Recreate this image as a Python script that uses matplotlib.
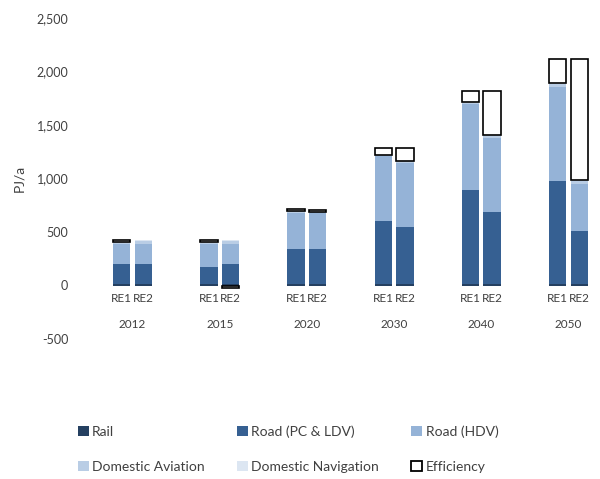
import matplotlib.pyplot as plt
import numpy as np
from matplotlib.patches import Patch
from matplotlib.transforms import blended_transform_factory

plt.rcParams["font.family"] = ["Lato", "DejaVu Sans"]

years = ["2012", "2015", "2020", "2030", "2040", "2050"]
scenarios = ["RE1", "RE2"]

# PJ/a per year, RE1 then RE2
rail = {
    "RE1": [12, 12, 12, 10, 10, 10],
    "RE2": [12, 12, 12, 10, 10, 10],
}
road_pc = {
    "RE1": [190, 165, 330, 589, 884, 970],
    "RE2": [190, 190, 330, 533, 679, 496],
}
road_hdv = {
    "RE1": [186, 211, 340, 611, 800, 876],
    "RE2": [186, 186, 335, 605, 692, 441],
}
aviation = {
    "RE1": [12, 12, 12, 10, 15, 30],
    "RE2": [28, 28, 10, 13, 20, 32],
}
navigation = {
    "RE1": [3, 3, 3, 3, 4, 7],
    "RE2": [10, 10, 3, 3, 5, 8],
}
efficiency = {
    "RE1": [22, 22, 22, 65, 102, 226],
    "RE2": [0, -22, 14, 124, 409, 1132],
}

series = [
    ("Rail", rail, "#254061"),
    ("Road (PC & LDV)", road_pc, "#366092"),
    ("Road (HDV)", road_hdv, "#95B3D7"),
    ("Domestic Aviation", aviation, "#B9CDE5"),
    ("Domestic Navigation", navigation, "#DCE6F2"),
]

text_color = "#404040"
fig = plt.figure(figsize=(6, 4.79), dpi=100)
ax = fig.add_axes([85 / 600, 1 - 339 / 479, 515 / 600, 321 / 479])

x = np.arange(len(years))
offsets = {"RE1": -0.123, "RE2": 0.123}
width = 0.2

for scen in scenarios:
    pos = x + offsets[scen]
    bottom = np.zeros(len(years))
    for name, data, color in series:
        vals = np.array(data[scen], dtype=float)
        ax.bar(pos, vals, width, bottom=bottom, color=color, linewidth=0)
        bottom += vals
    eff = np.array(efficiency[scen], dtype=float)
    # negative efficiency hangs below zero
    eff_bottom = np.where(eff > 0, bottom, 0)
    mask = eff != 0
    ax.bar(pos[mask], eff[mask], width, bottom=eff_bottom[mask],
           facecolor="white", edgecolor="black", linewidth=1.2)

ax.set_ylim(-500, 2500)
ax.set_xlim((85 - 132.5) / 87.2, (600 - 132.5) / 87.2)
ax.set_yticks(range(-500, 2501, 500))
ax.set_yticklabels([f"{v:,}" for v in range(-500, 2501, 500)])
ax.tick_params(axis="y", length=0, pad=12, labelsize=9, labelcolor=text_color)
ax.set_xticks([])
for s in ax.spines.values():
    s.set_visible(False)

ax.set_ylabel("PJ/a", fontsize=10, color=text_color, labelpad=8)

trans = blended_transform_factory(ax.transData, fig.transFigure)
for i, yr in enumerate(years):
    for scen in scenarios:
        ax.text(i + offsets[scen], 1 - 298 / 479, scen, transform=trans,
                ha="center", va="center", fontsize=8.5, color=text_color)
    ax.text(i, 1 - 325 / 479, yr, transform=trans, ha="center", va="center",
            fontsize=8.5, color=text_color)

handles = [Patch(facecolor=c, edgecolor="none", label=n) for n, _, c in series]
handles.append(Patch(facecolor="white", edgecolor="black", linewidth=1.3, label="Efficiency"))
order = [0, 3, 1, 4, 2, 5]
leg = fig.legend([handles[i] for i in order], [handles[i].get_label() for i in order],
                 ncol=3, loc="upper left", bbox_to_anchor=(72 / 600, 1 - 420 / 479),
                 frameon=False, fontsize=10, handlelength=0.8, handleheight=0.7,
                 handletextpad=0.25, columnspacing=2.3, labelspacing=1.66,
                 borderaxespad=0)
for t in leg.get_texts():
    t.set_color(text_color)

fig.savefig("out.png", dpi=100)
